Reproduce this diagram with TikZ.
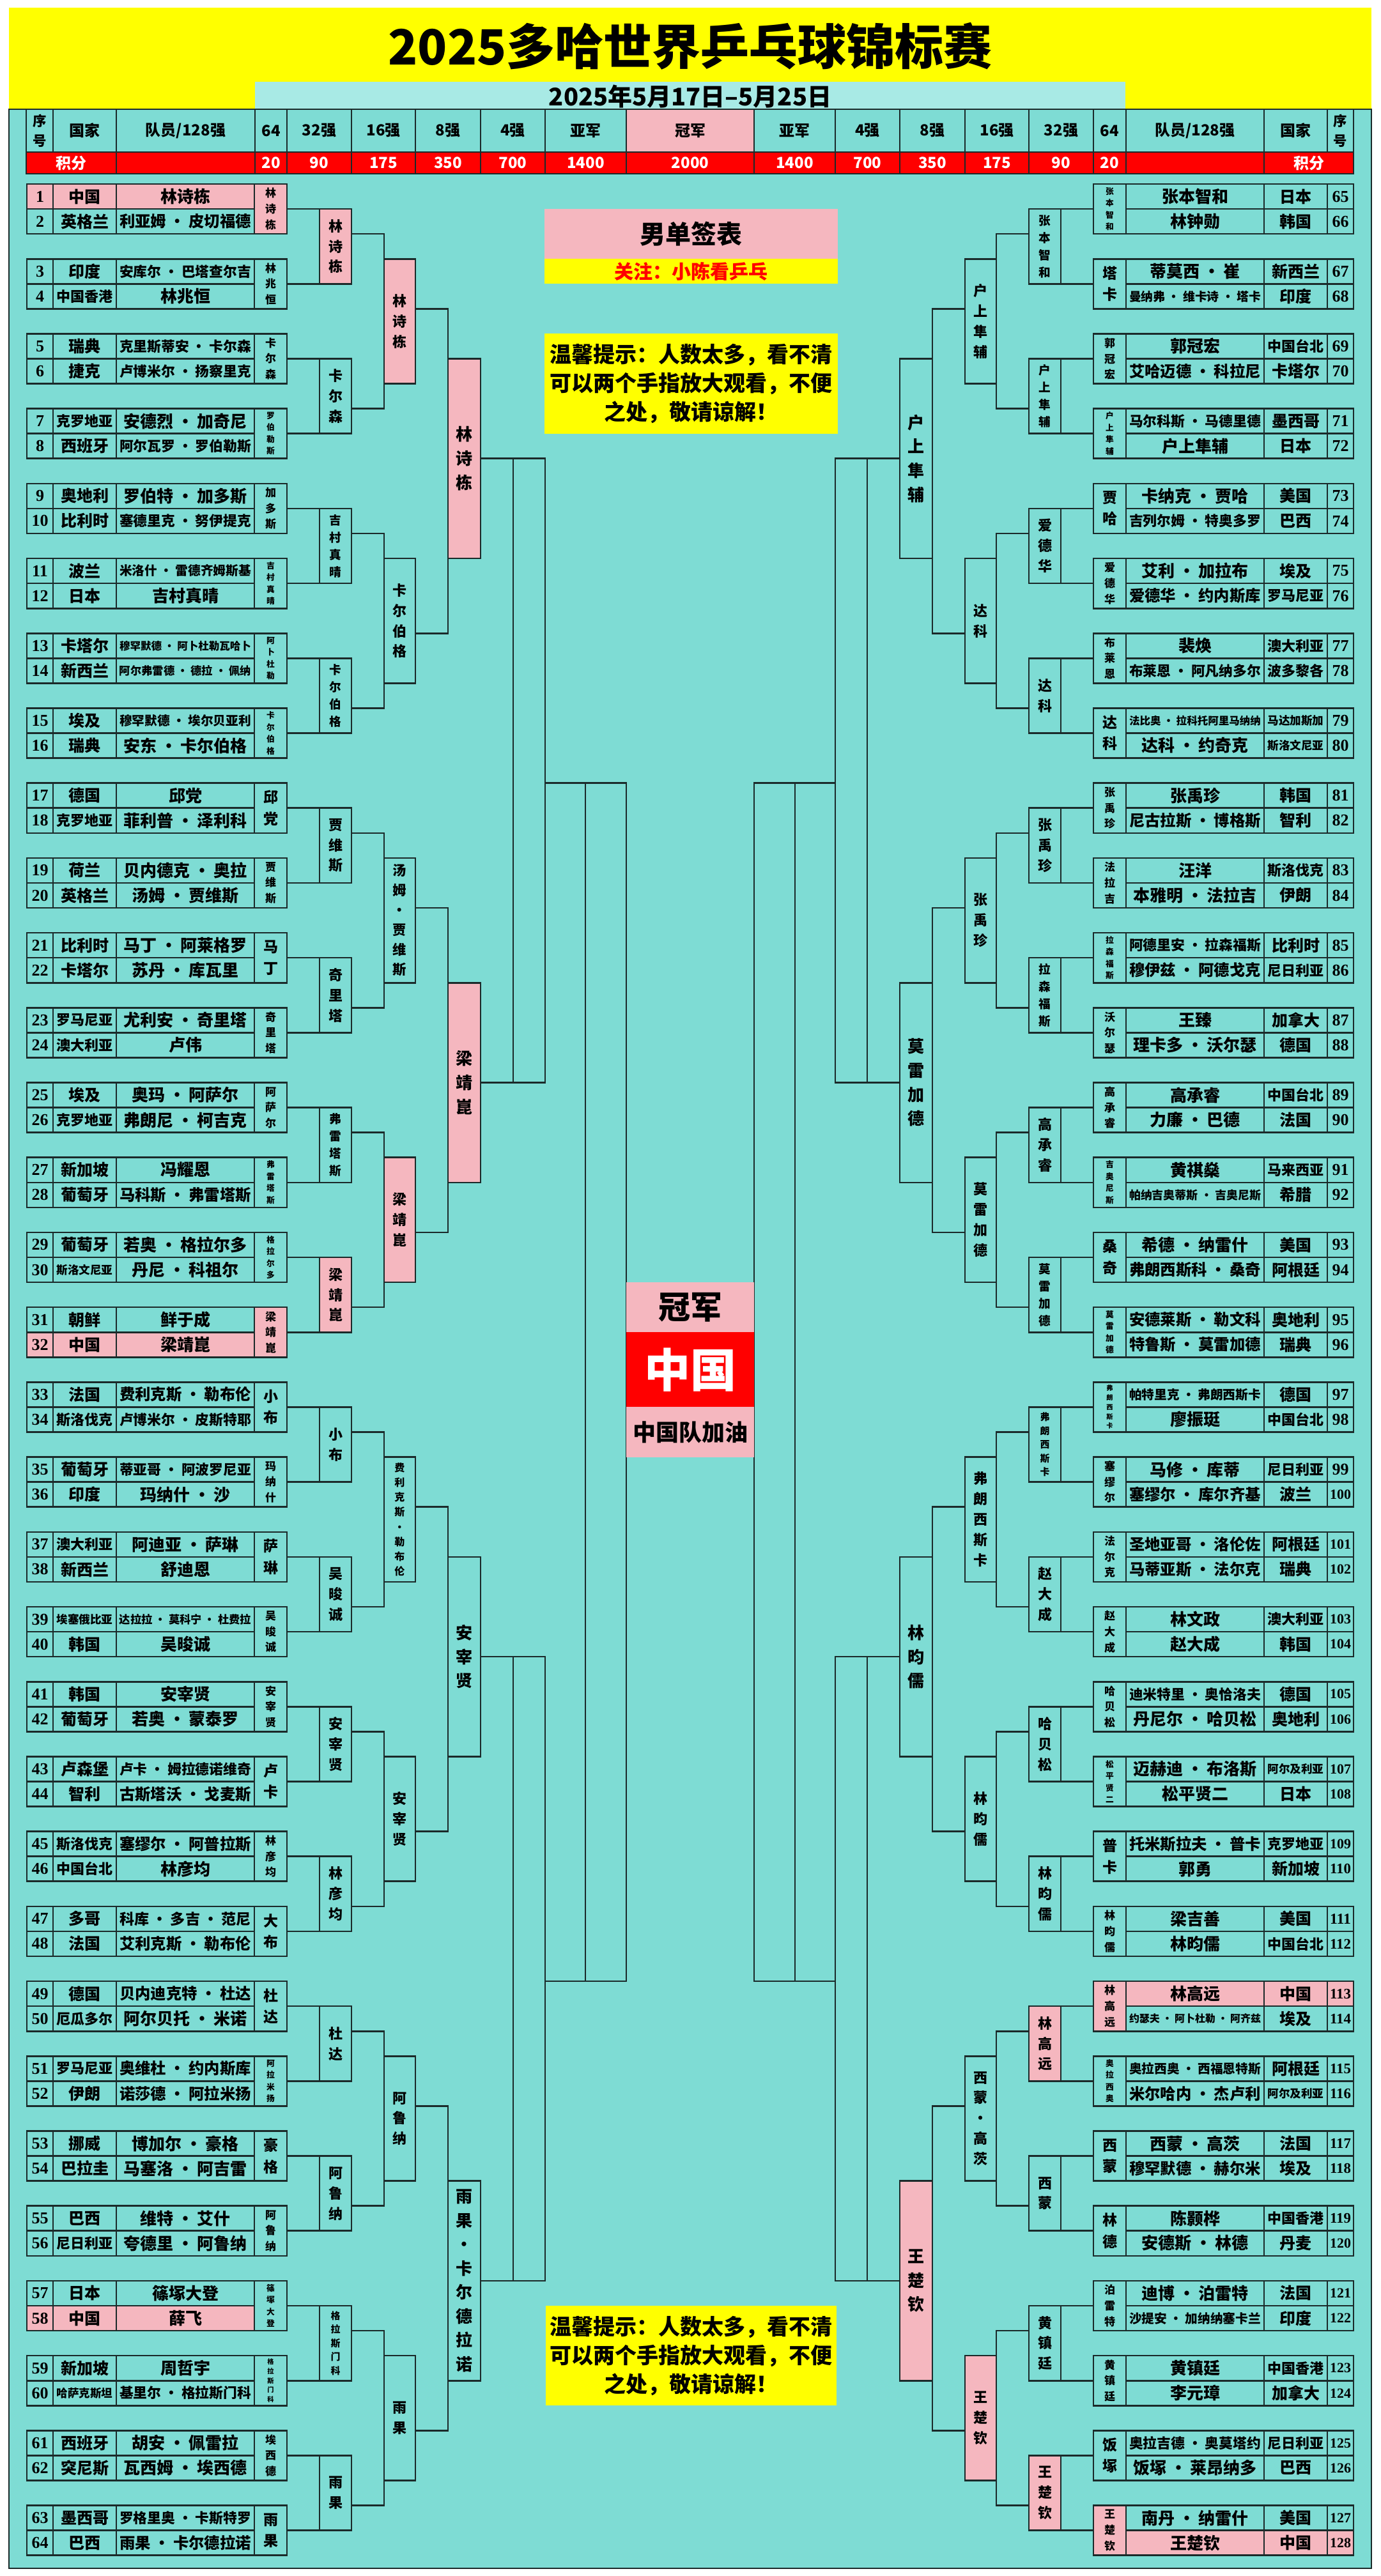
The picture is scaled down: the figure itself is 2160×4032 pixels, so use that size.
\documentclass[tikz,border=0pt]{standalone}
\usepackage{fontspec}
\usepackage{graphicx}
\setmainfont{Noto Sans CJK SC}
\newfontfamily\numfont{Liberation Serif}
\usetikzlibrary{positioning}

\definecolor{tq}{HTML}{7EDCD4}
\definecolor{pk}{HTML}{F5B7BF}
\definecolor{datec}{HTML}{A8EAE5}
\definecolor{linec}{HTML}{1B2A2A}
\definecolor{yel}{HTML}{FFFF00}
\definecolor{redc}{HTML}{FF0000}

\def\rh{19.535pt}

% shrink a one line text to a width (sizes in px)
\newsavebox\fitbox
\newlength\fitw
\newcommand\hfit[3]{\pgfmathsetlengthmacro\hfs{#1*0.5pt}\fontsize{\hfs}{\hfs}\selectfont
  \sbox\fitbox{#3}\pgfmathsetlength\fitw{(#2)*0.5pt}%
  \ifdim\wd\fitbox>\fitw\resizebox{\fitw}{!}{\usebox\fitbox}\else\usebox\fitbox\fi}

% characters stacked one under the other
\newcount\vcnt
\def\vcountaux#1{\ifx#1\relax\else\advance\vcnt by 1 \expandafter\vcountaux\fi}
\def\vstackaux#1{\ifx#1\relax\else\hbox to 0pt{\hss#1\hss}\expandafter\vstackaux\fi}
\newcommand\vfit[3]{\vcnt=0 \expandafter\vcountaux#3\relax
  \pgfmathsetmacro\vem{min(#1,#2/(1.45*\the\vcnt))}%
  \pgfmathsetlengthmacro\vfs{\vem*0.5pt}\pgfmathsetlengthmacro\vbs{\vem*0.725pt}%
  \fontsize{\vfs}{\vbs}\selectfont\vbox{\expandafter\vstackaux#3\relax}}

\newcommand\cellbox[7]{%
  \node[#6, minimum width={(#4-#2)*0.5pt}, minimum height={(#5-#3)*0.5pt}]
    (#1) at ({(#2+#4)/2},{(#3+#5)/2}) {#7};}

\tikzset{
  cellc/.style={draw=linec, line width=1.3pt, fill=tq, inner sep=0pt, outer sep=0pt, font=\bfseries},
  plain/.style={inner sep=0pt, outer sep=0pt, font=\bfseries},
  lnk/.style={draw=linec, line width=1.3pt},
}

\begin{document}
\begin{tikzpicture}[x=0.5pt,y=-0.5pt,declare function={ry(\x)=288+39.07*\x;}]
\useasboundingbox (0,0) rectangle (2160,4032);
\fill[white] (0,0) rectangle (2160,4032);
\fill[yel] (14,12) rectangle (2146,171);
\filldraw[fill=tq,draw=linec,line width=1.3pt] (14,171) rectangle (2146,4020);
\fill[datec] (399,128) rectangle (1761,171);
\node[plain,font=\bfseries\fontsize{38pt}{38pt}\selectfont] (title) at (1080,72) {2025多哈世界乒乓球锦标赛};
\node[plain,font=\bfseries\fontsize{19pt}{19pt}\selectfont] (date) at (1080,151) {2025年5月17日–5月25日};

% header
\cellbox{hsl}{41}{171}{83}{238}{cellc}{\vfit{22}{62}{序号}}
\cellbox{hsr}{2077}{171}{2118}{238}{cellc}{\vfit{22}{62}{序号}}
\foreach \xa/\xb/\lab/\fc [count=\i] in {83/182/国家/tq, 182/399/{队员/128强}/tq, 399/449/64/tq,
  449/550/32强/tq, 550/650/16强/tq, 650/752/8强/tq, 752/853/4强/tq, 853/980/亚军/tq,
  980/1180/冠军/pk, 1180/1307/亚军/tq, 1307/1408/4强/tq, 1408/1510/8强/tq, 1510/1610/16强/tq,
  1610/1711/32强/tq, 1711/1762/64/tq, 1762/1978/{队员/128强}/tq, 1978/2077/国家/tq}
  {\cellbox{h\i}{\xa}{171}{\xb}{238}{cellc,fill=\fc}{\hfit{24}{\xb-\xa-8}{\lab}}}
\foreach \xa/\xb/\lab [count=\i] in {41/182/积分, 182/399/{}, 399/449/20, 449/550/90, 550/650/175,
  650/752/350, 752/853/700, 853/980/1400, 980/1180/2000, 1180/1307/1400, 1307/1408/700,
  1408/1510/350, 1510/1610/175, 1610/1711/90, 1711/1762/20, 1762/1978/{}, 1978/2118/积分}
  {\cellbox{s\i}{\xa}{238}{\xb}{272}{cellc,fill=redc,text=white}{\hfit{24}{\xb-\xa-6}{\lab}}}

% left players
\foreach \cty/\nm/\fc [count=\idx] in {中国/林诗栋/pk, 英格兰/利亚姆 · 皮切福德/tq, 印度/安库尔 · 巴塔查尔吉/tq,
  中国香港/林兆恒/tq, 瑞典/克里斯蒂安 · 卡尔森/tq, 捷克/卢博米尔 · 扬察里克/tq, 克罗地亚/安德烈 · 加奇尼/tq,
  西班牙/阿尔瓦罗 · 罗伯勒斯/tq, 奥地利/罗伯特 · 加多斯/tq, 比利时/塞德里克 · 努伊提克/tq,
  波兰/米洛什 · 雷德齐姆斯基/tq, 日本/吉村真晴/tq, 卡塔尔/穆罕默德 · 阿卜杜勒瓦哈卜/tq,
  新西兰/阿尔弗雷德 · 德拉 · 佩纳/tq, 埃及/穆罕默德 · 埃尔贝亚利/tq, 瑞典/安东 · 卡尔伯格/tq,
  德国/邱党/tq, 克罗地亚/菲利普 · 泽利科/tq, 荷兰/贝内德克 · 奥拉/tq, 英格兰/汤姆 · 贾维斯/tq,
  比利时/马丁 · 阿莱格罗/tq, 卡塔尔/苏丹 · 库瓦里/tq, 罗马尼亚/尤利安 · 奇里塔/tq, 澳大利亚/卢伟/tq,
  埃及/奥玛 · 阿萨尔/tq, 克罗地亚/弗朗尼 · 柯吉克/tq, 新加坡/冯耀恩/tq, 葡萄牙/马科斯 · 弗雷塔斯/tq,
  葡萄牙/若奥 · 格拉尔多/tq, 斯洛文尼亚/丹尼 · 科祖尔/tq, 朝鲜/鲜于成/tq, 中国/梁靖崑/pk,
  法国/费利克斯 · 勒布伦/tq, 斯洛伐克/卢博米尔 · 皮斯特耶/tq, 葡萄牙/蒂亚哥 · 阿波罗尼亚/tq,
  印度/玛纳什 · 沙/tq, 澳大利亚/阿迪亚 · 萨琳/tq, 新西兰/舒迪恩/tq, 埃塞俄比亚/达拉拉 · 莫科宁 · 杜费拉/tq,
  韩国/吴晙诚/tq, 韩国/安宰贤/tq, 葡萄牙/若奥 · 蒙泰罗/tq, 卢森堡/卢卡 · 姆拉德诺维奇/tq,
  智利/古斯塔沃 · 戈麦斯/tq, 斯洛伐克/塞缪尔 · 阿普拉斯/tq, 中国台北/林彦均/tq, 多哥/科库 · 多吉 · 范尼/tq,
  法国/艾利克斯 · 勒布伦/tq, 德国/贝内迪克特 · 杜达/tq, 厄瓜多尔/阿尔贝托 · 米诺/tq,
  罗马尼亚/奥维杜 · 约内斯库/tq, 伊朗/诺莎德 · 阿拉米扬/tq, 挪威/博加尔 · 豪格/tq, 巴拉圭/马塞洛 · 阿吉雷/tq,
  巴西/维特 · 艾什/tq, 尼日利亚/夸德里 · 阿鲁纳/tq, 日本/篠塚大登/tq, 中国/薛飞/pk, 新加坡/周哲宇/tq,
  哈萨克斯坦/基里尔 · 格拉斯门科/tq, 西班牙/胡安 · 佩雷拉/tq, 突尼斯/瓦西姆 · 埃西德/tq,
  墨西哥/罗格里奥 · 卡斯特罗/tq, 巴西/雨果 · 卡尔德拉诺/tq}{
  \pgfmathtruncatemacro\pr{\idx-1+(\idx-1)/2}
  \pgfmathsetmacro\ya{ry(\pr)}\pgfmathsetmacro\yb{ry(\pr+1)}
  \cellbox{ln\idx}{42}{\ya}{83}{\yb}{cellc,fill=\fc}{\numfont\bfseries\hfit{26}{34}{\idx}}
  \cellbox{lc\idx}{83}{\ya}{182}{\yb}{cellc,fill=\fc}{\hfit{25}{88}{\cty}}
  \cellbox{lp\idx}{182}{\ya}{398}{\yb}{cellc,fill=\fc}{\hfit{26}{206}{\nm}}
}
% right players
\foreach \cty/\nm/\fc [count=\idx] in {日本/张本智和/tq, 韩国/林钟勋/tq, 新西兰/蒂莫西 · 崔/tq,
  印度/曼纳弗 · 维卡诗 · 塔卡/tq, 中国台北/郭冠宏/tq, 卡塔尔/艾哈迈德 · 科拉尼/tq, 墨西哥/马尔科斯 · 马德里德/tq,
  日本/户上隼辅/tq, 美国/卡纳克 · 贾哈/tq, 巴西/吉列尔姆 · 特奥多罗/tq, 埃及/艾利 · 加拉布/tq,
  罗马尼亚/爱德华 · 约内斯库/tq, 澳大利亚/裴焕/tq, 波多黎各/布莱恩 · 阿凡纳多尔/tq,
  马达加斯加/法比奥 · 拉科托阿里马纳纳/tq, 斯洛文尼亚/达科 · 约奇克/tq, 韩国/张禹珍/tq,
  智利/尼古拉斯 · 博格斯/tq, 斯洛伐克/汪洋/tq, 伊朗/本雅明 · 法拉吉/tq, 比利时/阿德里安 · 拉森福斯/tq,
  尼日利亚/穆伊兹 · 阿德戈克/tq, 加拿大/王臻/tq, 德国/理卡多 · 沃尔瑟/tq, 中国台北/高承睿/tq,
  法国/力廉 · 巴德/tq, 马来西亚/黄祺燊/tq, 希腊/帕纳吉奥蒂斯 · 吉奥尼斯/tq, 美国/希德 · 纳雷什/tq,
  阿根廷/弗朗西斯科 · 桑奇/tq, 奥地利/安德莱斯 · 勒文科/tq, 瑞典/特鲁斯 · 莫雷加德/tq,
  德国/帕特里克 · 弗朗西斯卡/tq, 中国台北/廖振珽/tq, 尼日利亚/马修 · 库蒂/tq, 波兰/塞缪尔 · 库尔齐基/tq,
  阿根廷/圣地亚哥 · 洛伦佐/tq, 瑞典/马蒂亚斯 · 法尔克/tq, 澳大利亚/林文政/tq, 韩国/赵大成/tq,
  德国/迪米特里 · 奥恰洛夫/tq, 奥地利/丹尼尔 · 哈贝松/tq, 阿尔及利亚/迈赫迪 · 布洛斯/tq, 日本/松平贤二/tq,
  克罗地亚/托米斯拉夫 · 普卡/tq, 新加坡/郭勇/tq, 美国/梁吉善/tq, 中国台北/林昀儒/tq, 中国/林高远/pk,
  埃及/约瑟夫 · 阿卜杜勒 · 阿齐兹/tq, 阿根廷/奥拉西奥 · 西福恩特斯/tq, 阿尔及利亚/米尔哈内 · 杰卢利/tq,
  法国/西蒙 · 高茨/tq, 埃及/穆罕默德 · 赫尔米/tq, 中国香港/陈颢桦/tq, 丹麦/安德斯 · 林德/tq,
  法国/迪博 · 泊雷特/tq, 印度/沙提安 · 加纳纳塞卡兰/tq, 中国香港/黄镇廷/tq, 加拿大/李元璋/tq,
  尼日利亚/奥拉吉德 · 奥莫塔约/tq, 巴西/饭塚 · 莱昂纳多/tq, 美国/南丹 · 纳雷什/tq, 中国/王楚钦/pk}{
  \pgfmathtruncatemacro\pr{\idx-1+(\idx-1)/2}
  \pgfmathtruncatemacro\num{\idx+64}
  \pgfmathsetmacro\ya{ry(\pr)}\pgfmathsetmacro\yb{ry(\pr+1)}
  \cellbox{rn\idx}{2077}{\ya}{2118}{\yb}{cellc,fill=\fc}{\numfont\bfseries\hfit{26}{33}{\num}}
  \cellbox{rc\idx}{1978}{\ya}{2077}{\yb}{cellc,fill=\fc}{\hfit{25}{88}{\cty}}
  \cellbox{rp\idx}{1762}{\ya}{1978}{\yb}{cellc,fill=\fc}{\hfit{26}{206}{\nm}}
}

% round of 64 winners
\foreach \nm/\fc [count=\ix from 0] in {林诗栋/pk, 林兆恒/tq, 卡尔森/tq, 罗伯勒斯/tq, 加多斯/tq, 吉村真晴/tq,
  阿卜杜勒/tq, 卡尔伯格/tq, 邱党/tq, 贾维斯/tq, 马丁/tq, 奇里塔/tq, 阿萨尔/tq, 弗雷塔斯/tq, 格拉尔多/tq,
  梁靖崑/pk, 小布/tq, 玛纳什/tq, 萨琳/tq, 吴晙诚/tq, 安宰贤/tq, 卢卡/tq, 林彦均/tq, 大布/tq, 杜达/tq,
  阿拉米扬/tq, 豪格/tq, 阿鲁纳/tq, 篠塚大登/tq, 格拉斯门科/tq, 埃西德/tq, 雨果/tq}{
  \pgfmathsetmacro\ya{ry(3*\ix)}\pgfmathsetmacro\yb{ry(3*\ix+2)}
  \cellbox{lw\ix}{398}{\ya}{449}{\yb}{cellc,fill=\fc}{\vfit{23}{74}{\nm}}
}
\foreach \nm/\fc [count=\ix from 0] in {张本智和/tq, 塔卡/tq, 郭冠宏/tq, 户上隼辅/tq, 贾哈/tq, 爱德华/tq,
  布莱恩/tq, 达科/tq, 张禹珍/tq, 法拉吉/tq, 拉森福斯/tq, 沃尔瑟/tq, 高承睿/tq, 吉奥尼斯/tq, 桑奇/tq,
  莫雷加德/tq, 弗朗西斯卡/tq, 塞缪尔/tq, 法尔克/tq, 赵大成/tq, 哈贝松/tq, 松平贤二/tq, 普卡/tq, 林昀儒/tq,
  林高远/pk, 奥拉西奥/tq, 西蒙/tq, 林德/tq, 泊雷特/tq, 黄镇廷/tq, 饭塚/tq, 王楚钦/pk}{
  \pgfmathsetmacro\ya{ry(3*\ix)}\pgfmathsetmacro\yb{ry(3*\ix+2)}
  \cellbox{rw\ix}{1711}{\ya}{1762}{\yb}{cellc,fill=\fc}{\vfit{23}{74}{\nm}}
}

% round of 32
\foreach \nm/\fc [count=\ix from 0] in {林诗栋/pk, 卡尔森/tq, 吉村真晴/tq, 卡尔伯格/tq, 贾维斯/tq, 奇里塔/tq,
  弗雷塔斯/tq, 梁靖崑/pk, 小布/tq, 吴晙诚/tq, 安宰贤/tq, 林彦均/tq, 杜达/tq, 阿鲁纳/tq, 格拉斯门科/tq, 雨果/tq}{
  \pgfmathsetmacro\ya{ry(6*\ix+1)}\pgfmathsetmacro\yb{ry(6*\ix+4)}
  \pgfmathtruncatemacro\ia{2*\ix}\pgfmathtruncatemacro\ib{2*\ix+1}
  \cellbox{lb\ix}{500}{\ya}{550}{\yb}{cellc,fill=\fc}{\vfit{22}{108}{\nm}}
  \draw[lnk] (lw\ia.east) -- (lb\ix.north west) (lw\ib.east) -- (lb\ix.south west);
}
\foreach \nm/\fc [count=\ix from 0] in {张本智和/tq, 户上隼辅/tq, 爱德华/tq, 达科/tq, 张禹珍/tq, 拉森福斯/tq,
  高承睿/tq, 莫雷加德/tq, 弗朗西斯卡/tq, 赵大成/tq, 哈贝松/tq, 林昀儒/tq, 林高远/pk, 西蒙/tq, 黄镇廷/tq, 王楚钦/pk}{
  \pgfmathsetmacro\ya{ry(6*\ix+1)}\pgfmathsetmacro\yb{ry(6*\ix+4)}
  \pgfmathtruncatemacro\ia{2*\ix}\pgfmathtruncatemacro\ib{2*\ix+1}
  \cellbox{rb\ix}{1610}{\ya}{1660}{\yb}{cellc,fill=\fc}{\vfit{22}{108}{\nm}}
  \draw[lnk] (rw\ia.west) -- (rb\ix.north east) (rw\ib.west) -- (rb\ix.south east);
}

% round of 16
\foreach \nm/\fc [count=\ix from 0] in {林诗栋/pk, 卡尔伯格/tq, 汤姆·贾维斯/tq, 梁靖崑/pk,
  费利克斯·勒布伦/tq, 安宰贤/tq, 阿鲁纳/tq, 雨果/tq}{
  \pgfmathsetmacro\ya{ry(12*\ix+3)}\pgfmathsetmacro\yb{ry(12*\ix+8)}
  \pgfmathtruncatemacro\ia{2*\ix}\pgfmathtruncatemacro\ib{2*\ix+1}
  \cellbox{lc\ix}{601}{\ya}{650}{\yb}{cellc,fill=\fc}{\vfit{22}{186}{\nm}}
  \draw[lnk] ([yshift=-\rh]lb\ia.north east) -| (lc\ix.west) |- ([yshift={-2*\rh}]lb\ib.north east);
}
\foreach \nm/\fc [count=\ix from 0] in {户上隼辅/tq, 达科/tq, 张禹珍/tq, 莫雷加德/tq,
  弗朗西斯卡/tq, 林昀儒/tq, 西蒙·高茨/tq, 王楚钦/pk}{
  \pgfmathsetmacro\ya{ry(12*\ix+3)}\pgfmathsetmacro\yb{ry(12*\ix+8)}
  \pgfmathtruncatemacro\ia{2*\ix}\pgfmathtruncatemacro\ib{2*\ix+1}
  \cellbox{rc\ix}{1510}{\ya}{1559}{\yb}{cellc,fill=\fc}{\vfit{22}{186}{\nm}}
  \draw[lnk] ([yshift=-\rh]rb\ia.north west) -| (rc\ix.east) |- ([yshift={-2*\rh}]rb\ib.north west);
}

% quarter finals
\foreach \nm/\fc [count=\ix from 0] in {林诗栋/pk, 梁靖崑/pk, 安宰贤/tq, 雨果·卡尔德拉诺/tq}{
  \pgfmathsetmacro\ya{ry(24*\ix+7+mod(\ix,2))}\pgfmathsetmacro\yb{ry(24*\ix+15+mod(\ix,2))}
  \pgfmathtruncatemacro\ia{2*\ix}\pgfmathtruncatemacro\ib{2*\ix+1}
  \cellbox{ld\ix}{701}{\ya}{752}{\yb}{cellc,fill=\fc}{\vfit{26}{300}{\nm}}
  \draw[lnk] ([yshift={-2*\rh}]lc\ia.north east) -| (ld\ix.west) |- ([yshift={-3*\rh}]lc\ib.north east);
}
\foreach \nm/\fc [count=\ix from 0] in {户上隼辅/tq, 莫雷加德/tq, 林昀儒/tq, 王楚钦/pk}{
  \pgfmathsetmacro\ya{ry(24*\ix+7+mod(\ix,2))}\pgfmathsetmacro\yb{ry(24*\ix+15+mod(\ix,2))}
  \pgfmathtruncatemacro\ia{2*\ix}\pgfmathtruncatemacro\ib{2*\ix+1}
  \cellbox{rd\ix}{1408}{\ya}{1459}{\yb}{cellc,fill=\fc}{\vfit{26}{300}{\nm}}
  \draw[lnk] ([yshift={-2*\rh}]rc\ia.north west) -| (rd\ix.east) |- ([yshift={-3*\rh}]rc\ib.north west);
}

% semi finals and final, still empty
\foreach \ix in {0,1}{
  \pgfmathsetmacro\ya{ry(48*\ix+11)}\pgfmathsetmacro\yb{ry(48*\ix+36)}
  \pgfmathtruncatemacro\ia{2*\ix}\pgfmathtruncatemacro\ib{2*\ix+1}
  \cellbox{le\ix}{803}{\ya}{853}{\yb}{cellc,fill=none}{}
  \cellbox{re\ix}{1307}{\ya}{1357}{\yb}{cellc,fill=none}{}
  \draw[lnk] (ld\ia.east) -- (le\ix.north west) (ld\ib.east) -- (le\ix.south west);
  \draw[lnk] (rd\ia.west) -- (re\ix.north east) (rd\ib.west) -- (re\ix.south east);
}
\cellbox{lf}{916}{ry(24)}{980}{ry(72)}{cellc,fill=none}{}
\cellbox{rf}{1180}{ry(24)}{1244}{ry(72)}{cellc,fill=none}{}
\draw[lnk] ([yshift={-13*\rh}]le0.north east) -- (lf.north west)
           ([yshift={-13*\rh}]le1.north east) -- (lf.south west);
\draw[lnk] ([yshift={-13*\rh}]re0.north west) -- (rf.north east)
           ([yshift={-13*\rh}]re1.north west) -- (rf.south east);

% centre
\cellbox{mtitle}{852}{ry(1)}{1311}{ry(3)}{plain,fill=pk}{\hfit{40}{440}{男单签表}}
\cellbox{follow}{852}{ry(3)}{1311}{ry(4)}{plain,fill=yel,text=redc}{\hfit{30}{440}{关注：小陈看乒乓}}
\cellbox{tipa}{852}{ry(6)}{1311}{ry(10)}{plain,fill=yel,align=center,font=\bfseries\fontsize{17pt}{22.5pt}\selectfont}{温馨提示：人数太多，看不清\\可以两个手指放大观看，不便\\之处，敬请谅解！}
\cellbox{tipb}{854}{ry(85)}{1309}{ry(89)}{plain,fill=yel,align=center,font=\bfseries\fontsize{17pt}{22.5pt}\selectfont}{温馨提示：人数太多，看不清\\可以两个手指放大观看，不便\\之处，敬请谅解！}
\cellbox{champ}{980}{ry(44)}{1180}{ry(46)}{plain,fill=pk}{\hfit{50}{190}{冠军}}
\cellbox{champc}{980}{ry(46)}{1180}{ry(49)}{plain,fill=redc,text=white}{\hfit{72}{190}{中国}}
\cellbox{cheer}{980}{ry(49)}{1180}{ry(51)}{plain,fill=pk}{\hfit{36}{190}{中国队加油}}
\end{tikzpicture}
\end{document}
